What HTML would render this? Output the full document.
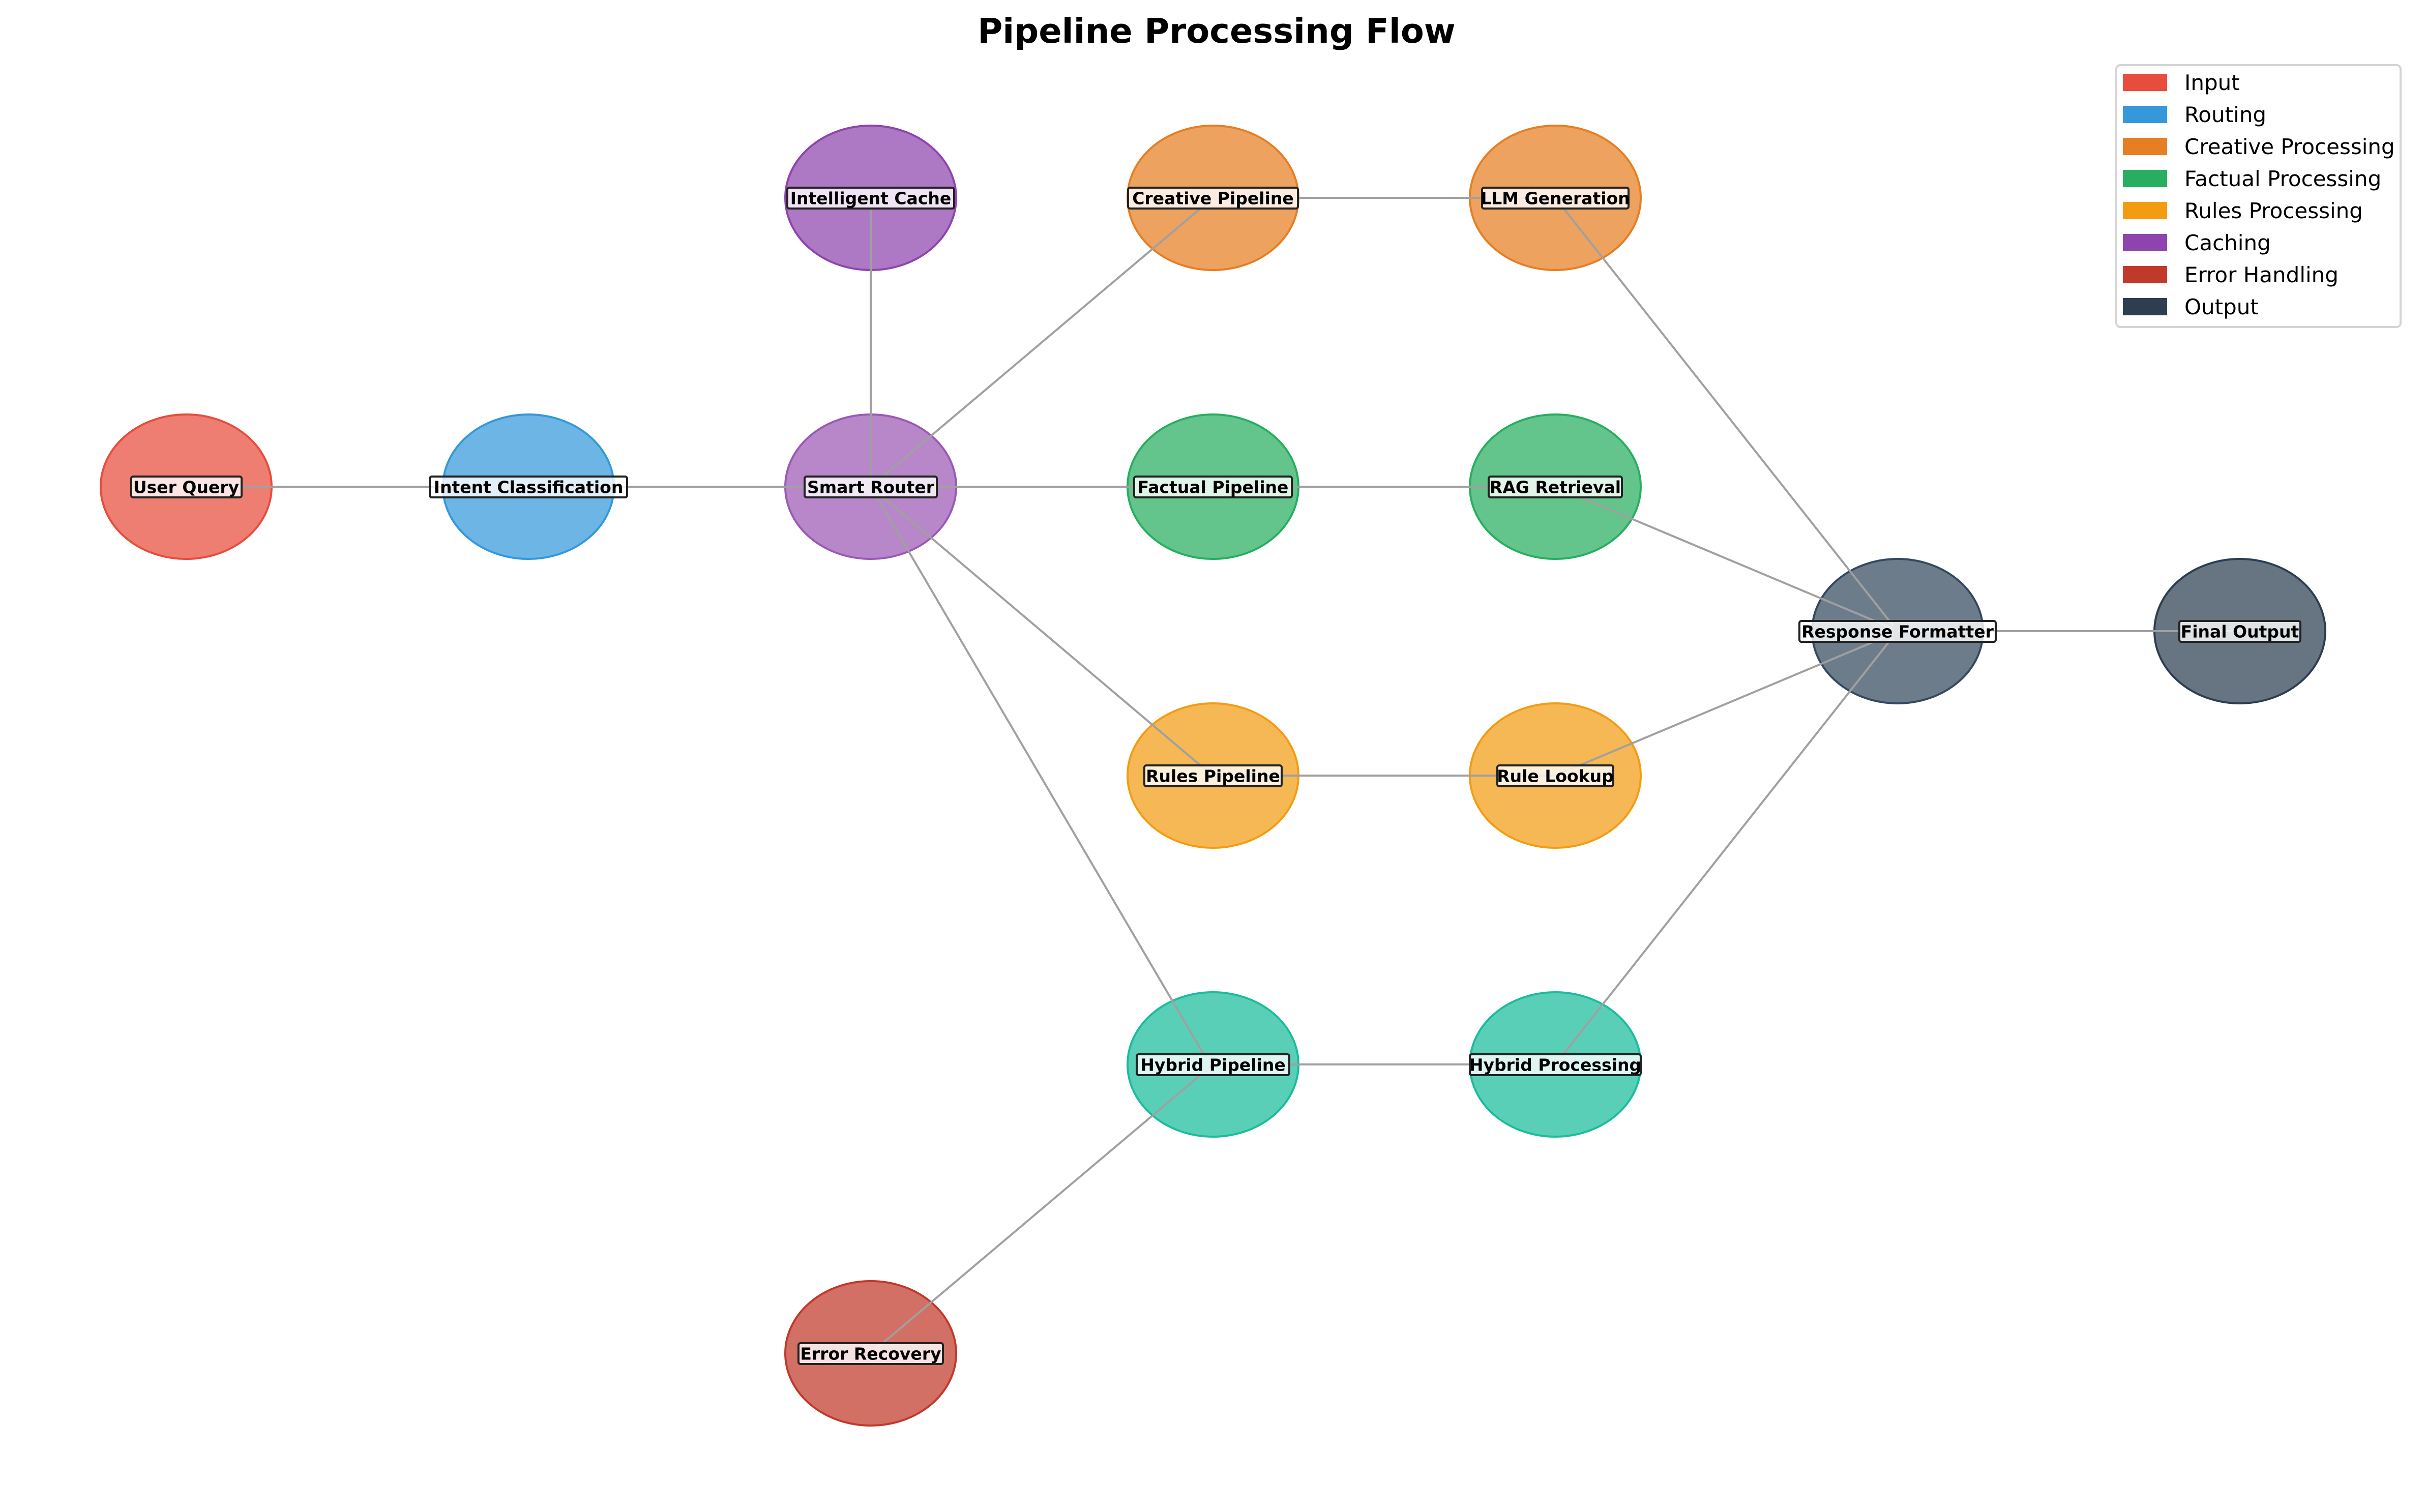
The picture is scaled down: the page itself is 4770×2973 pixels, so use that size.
<!DOCTYPE html>
<html><head><meta charset="utf-8"><style>
html,body{margin:0;padding:0;background:#fff}
svg{display:block}
text{font-family:"DejaVu Sans","Liberation Sans",sans-serif}
.l{font-size:33px;font-weight:bold;text-anchor:middle;dominant-baseline:central}
.g{font-size:42px}
.b{fill:#fff;fill-opacity:0.8;stroke:#222;stroke-width:4}
</style></head><body>
<svg width="4770" height="2973" viewBox="0 0 4770 2973" xmlns="http://www.w3.org/2000/svg">
<rect width="4770" height="2973" fill="#fff"/>
<text x="2392" y="61" font-size="67" font-weight="bold" text-anchor="middle" dominant-baseline="central">Pipeline Processing Flow</text>
<g fill-opacity="0.72" stroke-width="4">
<ellipse cx="366" cy="957" rx="168" ry="142" fill="#e74c3c" stroke="#e74c3c"/>
<ellipse cx="1039" cy="957" rx="168" ry="142" fill="#3498db" stroke="#3498db"/>
<ellipse cx="1712" cy="389" rx="168" ry="142" fill="#8e44ad" stroke="#8e44ad"/>
<ellipse cx="1712" cy="957" rx="168" ry="142" fill="#9b59b6" stroke="#9b59b6"/>
<ellipse cx="2385" cy="389" rx="168" ry="142" fill="#e67e22" stroke="#e67e22"/>
<ellipse cx="3058" cy="389" rx="168" ry="142" fill="#e67e22" stroke="#e67e22"/>
<ellipse cx="2385" cy="957" rx="168" ry="142" fill="#27ae60" stroke="#27ae60"/>
<ellipse cx="3058" cy="957" rx="168" ry="142" fill="#27ae60" stroke="#27ae60"/>
<ellipse cx="2385" cy="1525" rx="168" ry="142" fill="#f39c12" stroke="#f39c12"/>
<ellipse cx="3058" cy="1525" rx="168" ry="142" fill="#f39c12" stroke="#f39c12"/>
<ellipse cx="2385" cy="2093" rx="168" ry="142" fill="#1abc9c" stroke="#1abc9c"/>
<ellipse cx="3058" cy="2093" rx="168" ry="142" fill="#1abc9c" stroke="#1abc9c"/>
<ellipse cx="1712" cy="2661" rx="168" ry="142" fill="#c0392b" stroke="#c0392b"/>
<ellipse cx="3731" cy="1241" rx="168" ry="142" fill="#34495e" stroke="#34495e"/>
<ellipse cx="4404" cy="1241" rx="168" ry="142" fill="#2c3e50" stroke="#2c3e50"/>
</g>
<g stroke="#a0a0a0" stroke-width="4" fill="none">
<line x1="366" y1="957" x2="1039" y2="957"/>
<line x1="1039" y1="957" x2="1712" y2="957"/>
<line x1="1712" y1="957" x2="1712" y2="396"/>
<line x1="1712" y1="957" x2="2372" y2="400"/>
<line x1="1712" y1="957" x2="2385" y2="957"/>
<line x1="1712" y1="957" x2="2372" y2="1515"/>
<line x1="1712" y1="957" x2="2372" y2="2082"/>
<line x1="2385" y1="389" x2="3058" y2="389"/>
<line x1="2385" y1="957" x2="3058" y2="957"/>
<line x1="2385" y1="1525" x2="3058" y2="1525"/>
<line x1="2385" y1="2093" x2="3058" y2="2093"/>
<line x1="2385" y1="2093" x2="1725" y2="2650"/>
<line x1="3058" y1="389" x2="3722" y2="1230"/>
<line x1="3058" y1="957" x2="3722" y2="1236"/>
<line x1="3058" y1="1525" x2="3722" y2="1246"/>
<line x1="3058" y1="2093" x2="3722" y2="1252"/>
<line x1="3731" y1="1241" x2="4404" y2="1241"/>
</g>
<g>
<rect class="b" x="258" y="937" width="217" height="41" rx="4"/>
<text class="l" x="366" y="958">User Query</text>
<rect class="b" x="845" y="937" width="388" height="41" rx="4"/>
<text class="l" x="1039" y="958">Intent Classification</text>
<rect class="b" x="1548" y="369" width="328" height="41" rx="4"/>
<text class="l" x="1712" y="390">Intelligent Cache</text>
<rect class="b" x="1582" y="937" width="260" height="41" rx="4"/>
<text class="l" x="1712" y="958">Smart Router</text>
<rect class="b" x="2218" y="369" width="334" height="41" rx="4"/>
<text class="l" x="2385" y="390">Creative Pipeline</text>
<rect class="b" x="2914" y="369" width="288" height="41" rx="4"/>
<text class="l" x="3058" y="390">LLM Generation</text>
<rect class="b" x="2230" y="937" width="310" height="41" rx="4"/>
<text class="l" x="2385" y="958">Factual Pipeline</text>
<rect class="b" x="2927" y="937" width="262" height="41" rx="4"/>
<text class="l" x="3058" y="958">RAG Retrieval</text>
<rect class="b" x="2250" y="1505" width="270" height="41" rx="4"/>
<text class="l" x="2385" y="1526">Rules Pipeline</text>
<rect class="b" x="2944" y="1505" width="228" height="41" rx="4"/>
<text class="l" x="3058" y="1526">Rule Lookup</text>
<rect class="b" x="2235" y="2073" width="300" height="41" rx="4"/>
<text class="l" x="2385" y="2094">Hybrid Pipeline</text>
<rect class="b" x="2890" y="2073" width="336" height="41" rx="4"/>
<text class="l" x="3058" y="2094">Hybrid Processing</text>
<rect class="b" x="1570" y="2641" width="284" height="41" rx="4"/>
<text class="l" x="1712" y="2662">Error Recovery</text>
<rect class="b" x="3538" y="1221" width="386" height="41" rx="4"/>
<text class="l" x="3731" y="1242">Response Formatter</text>
<rect class="b" x="4285" y="1221" width="238" height="41" rx="4"/>
<text class="l" x="4404" y="1242">Final Output</text>
</g>
<rect x="4161" y="128" width="559" height="515" rx="8" fill="#fff" stroke="#d5d5d5" stroke-width="4"/>
<g>
<rect x="4174" y="145" width="87" height="34" fill="#e74c3c"/><text class="g" x="4295" y="177">Input</text>
<rect x="4174" y="208" width="87" height="34" fill="#3498db"/><text class="g" x="4295" y="240">Routing</text>
<rect x="4174" y="271" width="87" height="34" fill="#e67e22"/><text class="g" x="4295" y="303">Creative Processing</text>
<rect x="4174" y="334" width="87" height="34" fill="#27ae60"/><text class="g" x="4295" y="366">Factual Processing</text>
<rect x="4174" y="397" width="87" height="34" fill="#f39c12"/><text class="g" x="4295" y="429">Rules Processing</text>
<rect x="4174" y="460" width="87" height="34" fill="#8e44ad"/><text class="g" x="4295" y="492">Caching</text>
<rect x="4174" y="523" width="87" height="34" fill="#c0392b"/><text class="g" x="4295" y="555">Error Handling</text>
<rect x="4174" y="586" width="87" height="34" fill="#2c3e50"/><text class="g" x="4295" y="618">Output</text>
</g>
</svg>
</body></html>
